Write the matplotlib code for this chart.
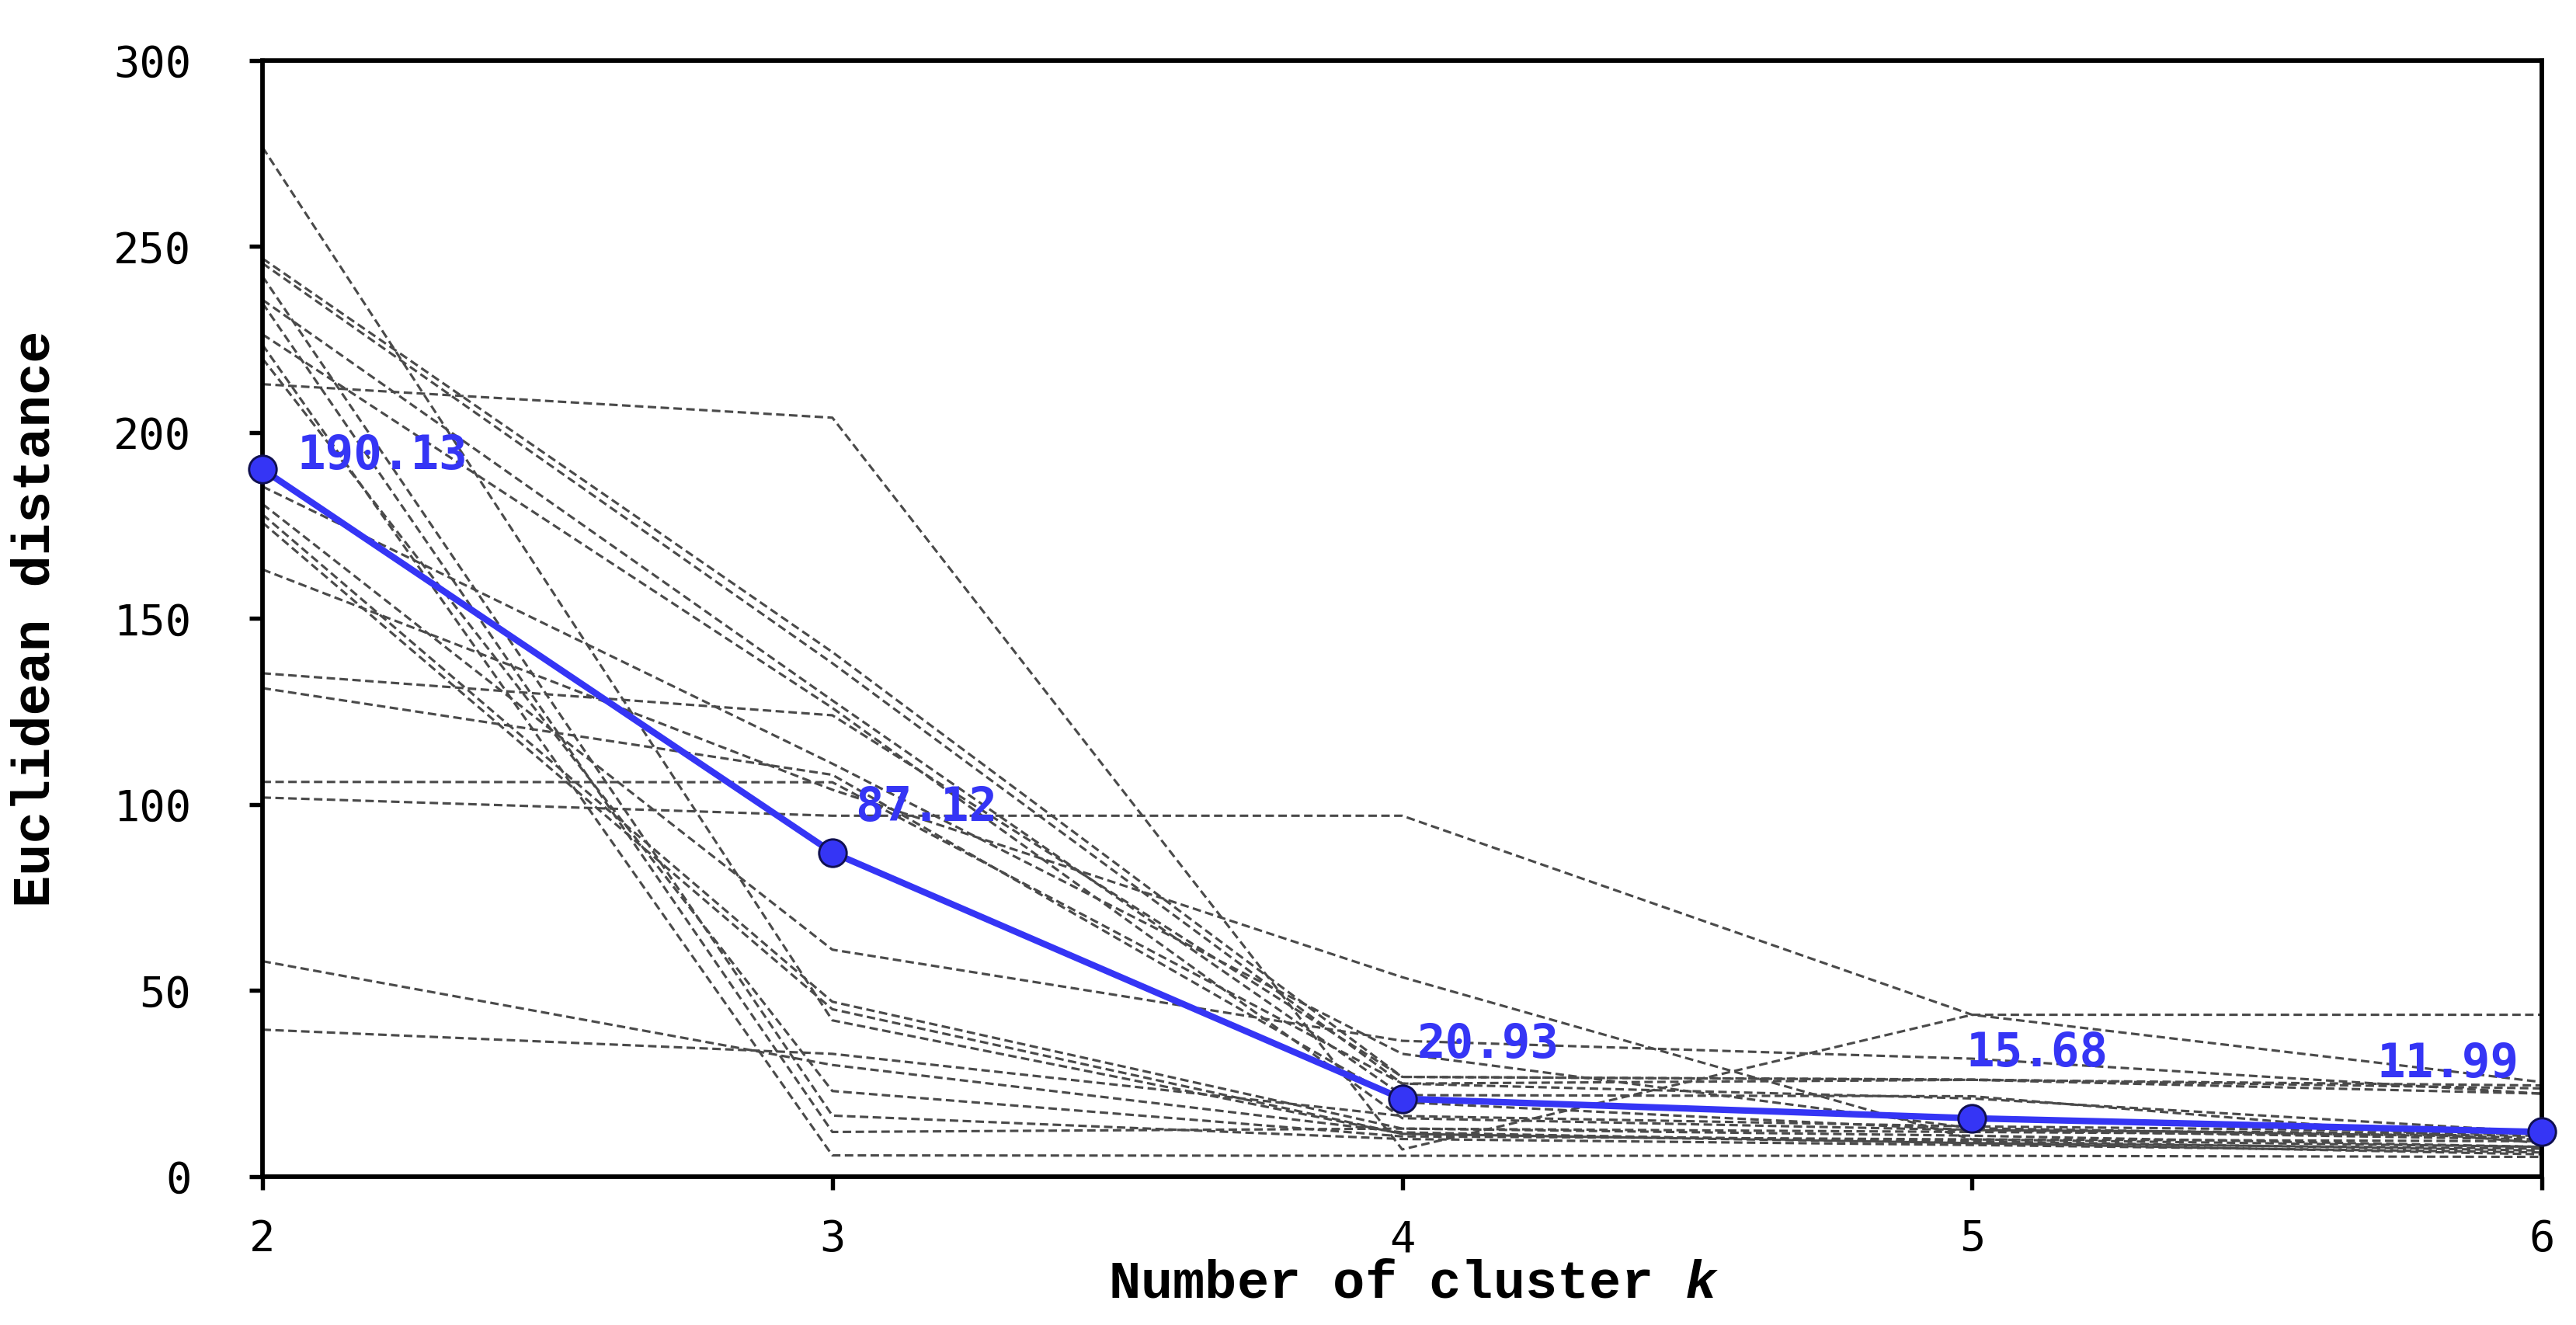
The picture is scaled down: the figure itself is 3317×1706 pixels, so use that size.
import matplotlib
matplotlib.use("Agg")
import matplotlib.pyplot as plt

# ---------------- data ----------------
k_values = [2, 3, 4, 5, 6]

# blue mean line
mean_distance = [190.13, 87.12, 20.93, 15.68, 11.99]
mean_labels = ["190.13", "87.12", "20.93", "15.68", "11.99"]

# individual (gray dashed) curves, values at k = 2..6
run_01 = [276.7, 42.0, 11.5, 9.0, 7.5]
run_02 = [246.8, 141.0, 26.8, 26.1, 23.7]
run_03 = [245.5, 138.0, 25.0, 26.0, 22.3]
run_04 = [242.0, 16.4, 10.1, 8.5, 6.5]
run_05 = [235.7, 128.0, 21.9, 21.6, 9.0]
run_06 = [234.8, 12.0, 12.9, 11.0, 8.0]
run_07 = [226.4, 126.0, 15.7, 12.5, 10.0]
run_08 = [223.6, 5.7, 5.6, 5.6, 5.3]
run_09 = [219.9, 23.0, 10.8, 10.0, 9.5]
run_10 = [213.0, 204.0, 7.3, 43.5, 43.5]
run_11 = [185.5, 111.0, 33.0, 13.0, 10.5]
run_12 = [180.8, 61.0, 36.5, 31.7, 22.3]
run_13 = [178.0, 47.0, 12.9, 12.0, 11.0]
run_14 = [175.8, 45.0, 11.5, 9.5, 7.0]
run_15 = [163.2, 104.0, 53.6, 10.0, 8.0]
run_16 = [135.3, 124.0, 26.8, 26.0, 24.5]
run_17 = [131.3, 108.0, 20.0, 12.5, 11.5]
run_18 = [106.1, 106.0, 25.0, 21.0, 12.0]
run_19 = [101.9, 97.0, 97.0, 43.5, 25.4]
run_20 = [57.9, 30.0, 11.9, 9.0, 6.0]
run_21 = [39.5, 33.0, 16.3, 13.5, 12.0]

runs = [run_01, run_02, run_03, run_04, run_05, run_06, run_07, run_08,
        run_09, run_10, run_11, run_12, run_13, run_14, run_15, run_16,
        run_17, run_18, run_19, run_20, run_21]

y_ticks = [0, 50, 100, 150, 200, 250, 300]

# ---------------- style ----------------
plt.rcParams['font.family'] = ['DejaVu Sans Mono', 'DejaVu Sans']
plt.rcParams['mathtext.fontset'] = 'custom'
plt.rcParams['mathtext.it'] = 'Liberation Mono:italic:bold'
plt.rcParams['mathtext.rm'] = 'Liberation Mono:bold'

BLUE = '#3535F5'

fig = plt.figure(figsize=(3317 / 300, 1706 / 300), dpi=300)
ax = fig.add_axes([0.1019, 0.1120, 0.9868 - 0.1019, 0.9543 - 0.1120])

for r in runs:
    ax.plot(k_values, r, linestyle='--', color='#4a4a4a', linewidth=0.75,
            dashes=(3.5, 1.8), zorder=2)

ax.plot(k_values, mean_distance, color=BLUE, linewidth=2.0, marker='o',
        markersize=8.5, markerfacecolor=BLUE, markeredgecolor='#101050',
        markeredgewidth=0.7, zorder=4, clip_on=False)

# label offsets (points) relative to each point
offsets = [(10.7, 4.0, 'left'), (7.1, 13.7, 'left'), (4.6, 16.5, 'left'),
           (-2.0, 20.0, 'left'), (-7.1, 20.8, 'right')]
for xv, yv, lab, (dx, dy, ha) in zip(k_values, mean_distance, mean_labels, offsets):
    ax.annotate(lab, (xv, yv), xytext=(dx, dy), textcoords='offset points',
                ha=ha, va='center', color=BLUE, fontsize=14.6,
                fontweight='bold', family='DejaVu Sans Mono', zorder=5)

ax.set_xlim(2, 6)
ax.set_ylim(0, 300)
ax.set_xticks(k_values)
ax.set_yticks(y_ticks)
ax.tick_params(axis='both', direction='out', length=4, width=1.3,
               labelsize=13.3, color='black')
ax.tick_params(axis='y', pad=18)
ax.tick_params(axis='x', pad=9)

for sp in ax.spines.values():
    sp.set_linewidth(1.4)
    sp.set_color('black')

ax.set_xlabel('Number of cluster $k$', family='Liberation Mono',
              fontweight='bold', fontsize=16.5, va='center')
ax.xaxis.set_label_coords(0.505, -0.096)
ax.set_ylabel('Euclidean distance', family='Liberation Mono',
              fontweight='bold', fontsize=16.5, va='center')
ax.yaxis.set_label_coords(-0.0995, 0.5)

fig.savefig('out.png', dpi=300)
